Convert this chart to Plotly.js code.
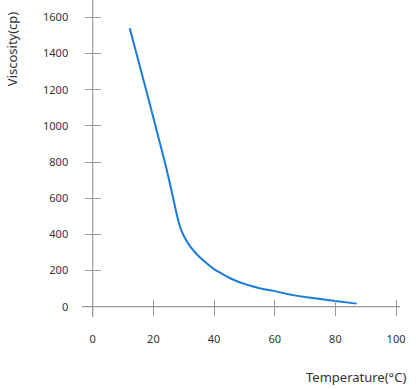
<!DOCTYPE html>
<html>
<head>
<meta charset="utf-8">
<script src="https://cdn.plot.ly/plotly-3.0.1.min.js"></script>
<style>html,body{margin:0;padding:0;background:#fff;}#chart{width:416px;height:389px;}</style>
</head>
<body>
<div id="chart"></div>
<script>
// Data
const temperature = [12.2, 16, 20, 22, 24, 26, 27.5, 28.3, 29, 30, 32, 34.3, 36.5, 40, 42, 45, 47, 50, 52, 55, 57, 60, 65, 70, 75, 80, 87];
const viscosity   = [1540, 1300, 1045, 915, 785, 640, 525, 470, 432, 392, 336, 290, 255, 208, 188, 160, 145, 126, 116, 102, 95, 86, 67, 53, 42, 32, 17];
const xTicks = [0, 20, 40, 60, 80, 100];
const yTicks = [0, 200, 400, 600, 800, 1000, 1200, 1400, 1600];

const font = {family: '"Noto Sans", sans-serif', size: 11, color: '#333'};
const xRange = [-3.53, 101.3];
const yRange = [-57, 1695.7];
const plotW = 318, plotH = 317;
// fraction of the plot area where the zero lines sit
const zeroYFrac = (0 - yRange[0]) / (yRange[1] - yRange[0]);
const zeroXFrac = (0 - xRange[0]) / (xRange[1] - xRange[0]);
const tickHalf = 8;
const pad = '\u00a0\u00a0\u00a0\u00a0\u00a0';

const layout = {
  width: 416, height: 389,
  margin: {l: 82, r: 16, t: 0, b: 72},
  showlegend: false,
  font: font,
  xaxis: {range: xRange, tickvals: xTicks, ticktext: xTicks.map(v => '<br>' + v), showgrid: false,
    zeroline: false, showline: false,
    ticks: 'outside', ticklen: 2 * tickHalf, tickcolor: '#999', tickwidth: 1, tickfont: font,
    anchor: 'free', position: zeroYFrac + tickHalf / plotH},
  yaxis: {range: yRange, tickvals: yTicks, ticktext: yTicks.map(v => v + pad), showgrid: false,
    zeroline: false, showline: false,
    ticks: 'outside', ticklen: 2 * tickHalf, tickcolor: '#999', tickwidth: 1, tickfont: font,
    anchor: 'free', position: zeroXFrac + tickHalf / plotW},
  shapes: [
    {type: 'line', xref: 'paper', yref: 'paper', x0: 0, x1: 1, y0: zeroYFrac, y1: zeroYFrac, line: {color: '#999', width: 1.2}},
    {type: 'line', xref: 'paper', yref: 'paper', x0: zeroXFrac, x1: zeroXFrac, y0: 0, y1: 1, line: {color: '#999', width: 1.2}}
  ],
  annotations: [
    {text: 'Viscosity(cp)', xref: 'paper', yref: 'paper', x: -0.22, y: 0.845, textangle: -90, showarrow: false, font: {family: '"Noto Sans", sans-serif', size: 13, color: '#333'}, xanchor: 'center', yanchor: 'middle'},
    {text: 'Temperature(°C)', xref: 'paper', yref: 'paper', x: 1.025, y: -0.19, showarrow: false, font: {family: '"Noto Sans", sans-serif', size: 13, color: '#333'}, xanchor: 'right', yanchor: 'middle'}
  ]
};

const traces = [
  {x: temperature, y: viscosity, type: 'scatter', mode: 'lines', line: {color: '#1a7bdb', width: 2, shape: 'spline', smoothing: 0.3}, hoverinfo: 'none'}
];

Plotly.newPlot('chart', traces, layout, {staticPlot: true});
</script>
</body>
</html>
